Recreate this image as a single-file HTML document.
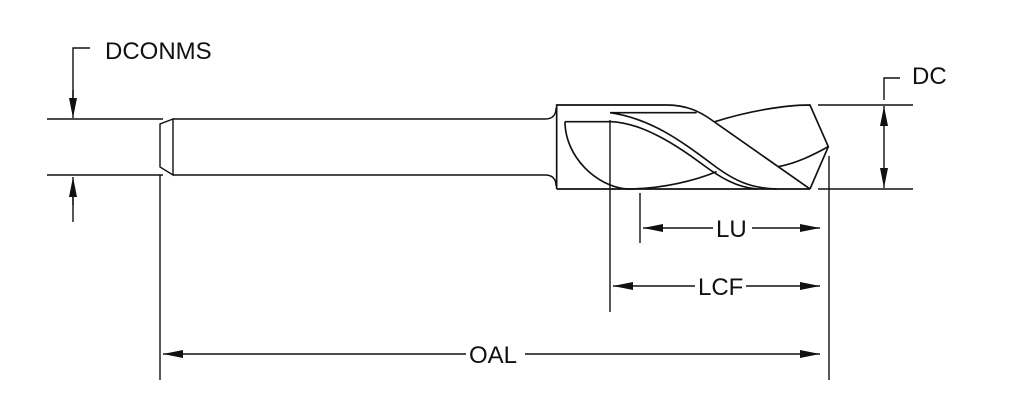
<!DOCTYPE html>
<html><head><style>
html,body{margin:0;padding:0;background:#fff;}
svg{display:block;}
text{font-family:"Liberation Sans",sans-serif;font-size:24px;fill:#111;}
</style></head><body>
<svg width="1024" height="418" viewBox="0 0 1024 418" xmlns="http://www.w3.org/2000/svg">
<defs>
<marker id="ah" markerWidth="20" markerHeight="8" refX="20" refY="4" orient="auto" markerUnits="userSpaceOnUse">
<path d="M0,0 L20,4 L0,8 Z" fill="#111"/>
</marker>
</defs>
<g stroke="#111" stroke-width="1.4" fill="none">
<!-- shank -->
<line x1="47" y1="119" x2="163" y2="119"/>
<line x1="47" y1="175" x2="163" y2="175"/>
<path d="M173,119 L545,119 Q556,119 556,108"/>
<path d="M173,175 L545,175 Q556,175 556,186"/>
<path d="M173,119 L160,124 L160,167 L173,175 Z"/>
<line x1="160" y1="175" x2="160" y2="380"/>
<!-- DCONMS -->
<path d="M90,48 L73,48 L73,100"/>
<line x1="73" y1="222" x2="73" y2="195"/>
</g>
<g stroke="#111" stroke-width="1.4" fill="none">
<line x1="73" y1="90" x2="73" y2="118" marker-end="url(#ah)"/>
<line x1="73" y1="205" x2="73" y2="177" marker-end="url(#ah)"/>
</g>
<text x="105" y="59">DCONMS</text>
<!-- flute body in zoom coords -->
<g transform="translate(530,90) scale(0.3333)" stroke="#111" stroke-width="5" fill="none">
<path d="M80,297 L80,45 L410,45 C470,45 510,65 545,90 L840,297"/>
<line x1="80" y1="297" x2="840" y2="297"/>
<path d="M240,68 L500,68"/>
<path d="M240,68 C360,85 450,150 550,225 C610,270 660,295 740,297"/>
<path d="M105,95 L245,95 C330,100 420,150 520,225 C570,262 620,292 680,297"/>
<path d="M105,95 C105,200 200,290 290,297 C400,297 500,270 560,245"/>
<path d="M555,95 C650,65 760,45 840,45 L895,170 C850,195 800,220 745,230"/>
<path d="M895,170 L840,297"/>
</g>
<g stroke="#111" stroke-width="1.4" fill="none">
<line x1="610" y1="120" x2="610" y2="312"/>
<line x1="640" y1="193" x2="640" y2="243"/>
<line x1="829" y1="156" x2="829" y2="380"/>
<line x1="818" y1="105" x2="913" y2="105"/>
<line x1="818" y1="189" x2="913" y2="189"/>
<path d="M884,100 L884,78 L900,78"/>
<line x1="884" y1="147" x2="884" y2="106" marker-end="url(#ah)"/>
<line x1="884" y1="147" x2="884" y2="188" marker-end="url(#ah)"/>
<!-- LU -->
<line x1="713" y1="228" x2="643" y2="228" marker-end="url(#ah)"/>
<line x1="752" y1="228" x2="820" y2="228" marker-end="url(#ah)"/>
<!-- LCF -->
<line x1="695" y1="286" x2="613" y2="286" marker-end="url(#ah)"/>
<line x1="746" y1="286" x2="820" y2="286" marker-end="url(#ah)"/>
<!-- OAL -->
<line x1="466" y1="354" x2="163" y2="354" marker-end="url(#ah)"/>
<line x1="525" y1="354" x2="820" y2="354" marker-end="url(#ah)"/>
</g>
<text x="912" y="84">DC</text>
<text x="716" y="237">LU</text>
<text x="698" y="295">LCF</text>
<text x="469" y="363">OAL</text>
</svg>
</body></html>
